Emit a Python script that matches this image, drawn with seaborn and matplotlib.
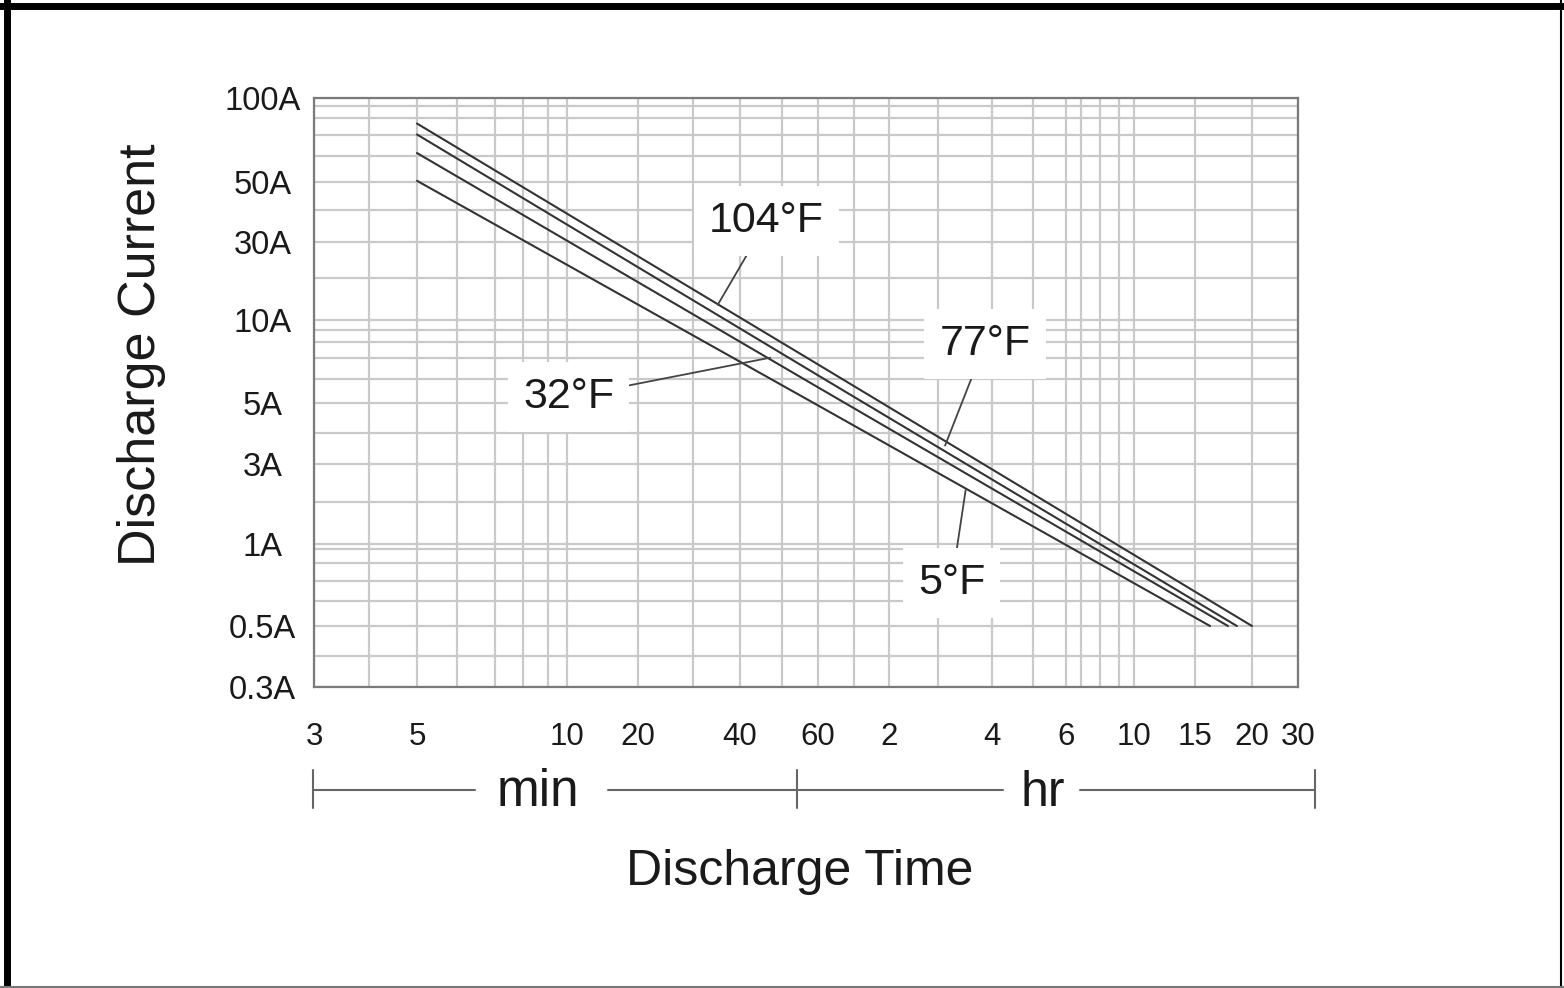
import numpy as np
import pandas as pd
import matplotlib
matplotlib.use("Agg")
import matplotlib.pyplot as plt
import seaborn as sns
from matplotlib.ticker import FixedLocator, FixedFormatter, NullFormatter
from matplotlib.lines import Line2D

# ---------------- data ----------------
temps = ["104°F", "77°F", "32°F", "5°F"]
time_104 = [5, 60, 1200]      # minutes
amp_104 = [81.0, 6.9, 0.5]
time_77 = [5, 60, 1112]
amp_77 = [74.0, 6.3, 0.5]
time_32 = [5, 60, 1063]
amp_32 = [63.5, 5.7, 0.5]
time_5 = [5, 60, 971]
amp_5 = [50.5, 4.9, 0.5]

x_tick_minutes = [3, 5, 10, 20, 40, 60, 120, 240, 360, 600, 900, 1200, 1800]
x_tick_labels = ["3", "5", "10", "20", "40", "60", "2", "4", "6", "10", "15", "20", "30"]
y_tick_amps = [0.3, 0.5, 1, 3, 5, 10, 30, 50, 100]
y_tick_labels = ["0.3A", "0.5A", "1A", "3A", "5A", "10A", "30A", "50A", "100A"]

# label target points on the curves (minutes, amps)
label_targets = {"104°F": (34.4, 12.4), "77°F": (175, 3.5), "32°F": (46.8, 7.3), "5°F": (201, 2.1)}

# ---------------- the hand-drawn (irregular) axis scales ----------------
x_tick_pos = [0, 103, 253, 324, 426, 504, 575, 678, 752, 820, 881, 938, 984]
y_tick_pos = [0, 61, 143, 223, 284, 367, 445, 505, 589]
x_grid_pos = [55, 103, 143, 181, 209, 234, 253, 324, 379, 426, 468, 504, 540, 575, 624,
              678, 719, 752, 767, 786, 805, 820, 881, 938]
y_grid_pos = [581, 569, 552, 531, 505, 477, 445, 409, 367, 357, 345, 329, 308, 284, 254,
              223, 185, 143, 138, 124, 106, 86, 61, 31]


def make_scale(values, pos):
    lv = np.log10(np.asarray(values, float))
    p = np.asarray(pos, float)
    s0 = (p[1] - p[0]) / (lv[1] - lv[0])
    s1 = (p[-1] - p[-2]) / (lv[-1] - lv[-2])

    def fwd(x):
        x = np.log10(np.clip(np.asarray(x, float), 1e-12, None))
        y = np.interp(x, lv, p)
        y = np.where(x < lv[0], p[0] + (x - lv[0]) * s0, y)
        y = np.where(x > lv[-1], p[-1] + (x - lv[-1]) * s1, y)
        return y

    def inv(y):
        y = np.asarray(y, float)
        x = np.interp(y, p, lv)
        x = np.where(y < p[0], lv[0] + (y - p[0]) / s0, x)
        x = np.where(y > p[-1], lv[-1] + (y - p[-1]) / s1, x)
        return 10 ** x

    return fwd, inv


fx, ix = make_scale(x_tick_minutes, x_tick_pos)
fy, iy = make_scale(y_tick_amps, y_tick_pos)

# ---------------- figure ----------------
sns.set_style("white")
plt.rcParams["font.family"] = ["Liberation Sans", "DejaVu Sans"]

fig = plt.figure(figsize=(15.64, 9.88), dpi=100)
ax = fig.add_axes([314 / 1564, 1 - 687 / 988, 984 / 1564, 589 / 988])
ax.set_xscale("function", functions=(fx, ix))
ax.set_yscale("function", functions=(fy, iy))

df = pd.concat([
    pd.DataFrame({"minutes": time_104, "amps": amp_104, "temp": temps[0]}),
    pd.DataFrame({"minutes": time_77, "amps": amp_77, "temp": temps[1]}),
    pd.DataFrame({"minutes": time_32, "amps": amp_32, "temp": temps[2]}),
    pd.DataFrame({"minutes": time_5, "amps": amp_5, "temp": temps[3]}),
], ignore_index=True)

sns.lineplot(data=df, x="minutes", y="amps", hue="temp",
             palette={t: "#333333" for t in temps}, estimator=None, sort=False,
             legend=False, lw=1.5, ax=ax, zorder=2)

ax.set_xlim(x_tick_minutes[0], x_tick_minutes[-1])
ax.set_ylim(y_tick_amps[0], y_tick_amps[-1])

ax.xaxis.set_major_locator(FixedLocator(x_tick_minutes))
ax.xaxis.set_major_formatter(FixedFormatter(x_tick_labels))
ax.xaxis.set_minor_locator(FixedLocator(list(ix(x_grid_pos))))
ax.xaxis.set_minor_formatter(NullFormatter())
ax.yaxis.set_major_locator(FixedLocator(y_tick_amps))
ax.yaxis.set_major_formatter(FixedFormatter(y_tick_labels))
ax.yaxis.set_minor_locator(FixedLocator(list(iy(y_grid_pos))))
ax.yaxis.set_minor_formatter(NullFormatter())

ax.set_axisbelow(True)
ax.grid(which="both", color="#c9c9c9", lw=1.6)
ax.tick_params(which="both", length=0)
ax.tick_params(axis="x", pad=25, labelsize=22.5, labelcolor="#1a1a1a")
ax.tick_params(axis="y", pad=37, labelsize=23.5, labelcolor="#1a1a1a")
for lab in ax.get_yticklabels():
    lab.set_ha("center")

for sp in ax.spines.values():
    sp.set_visible(True)
    sp.set_color("#7a7a7a")
    sp.set_linewidth(1.6)

ax.set_xlabel("Discharge Time", fontsize=36, color="#1a1a1a", va="center")
ax.xaxis.set_label_coords(0.494, -0.314)
ax.set_ylabel("Discharge Current", fontsize=37.5, color="#1a1a1a", va="center")
ax.yaxis.set_label_coords(-0.175, 0.564)

# temperature labels with leader lines
label_pos = {"104°F": (0.460, 0.791), "77°F": (0.682, 0.583),
             "32°F": (0.259, 0.492), "5°F": (0.648, 0.176)}
for t in temps:
    ax.annotate(t, xy=label_targets[t], xycoords="data", xytext=label_pos[t],
                textcoords="axes fraction", ha="center", va="center",
                fontsize=31, color="#1a1a1a", zorder=4,
                bbox=dict(boxstyle="square,pad=0.35", fc="white", ec="none"),
                arrowprops=dict(arrowstyle="-", color="#444444", lw=1.3,
                                shrinkA=0, shrinkB=0))

# min / hr bracket under the x axis
yb = -0.175
seg_kw = dict(transform=ax.transAxes, clip_on=False, color="#666666", lw=1.5)
for x0, x1 in [(-0.001, 0.1636), (0.2988, 0.4909), (0.4909, 0.7002), (0.7785, 1.0173)]:
    ax.plot([x0, x1], [yb, yb], **seg_kw)
for xt in [-0.001, 0.4909, 1.0173]:
    ax.plot([xt, xt], [-0.141, -0.2054], **seg_kw)
ax.text(0.2276, -0.202, "min", transform=ax.transAxes, ha="center", va="baseline",
        fontsize=37, color="#1a1a1a")
ax.text(0.741, -0.202, "hr", transform=ax.transAxes, ha="center", va="baseline",
        fontsize=36, color="#1a1a1a")

# outer frame of the picture
fig.add_artist(Line2D([0, 1], [1 - 6.5 / 988] * 2, transform=fig.transFigure, color="black", lw=5))
fig.add_artist(Line2D([6.5 / 1564] * 2, [0, 1], transform=fig.transFigure, color="black", lw=5))
fig.add_artist(Line2D([1561 / 1564] * 2, [0, 1], transform=fig.transFigure, color="black", lw=1.5))
fig.add_artist(Line2D([0, 1], [1 / 988] * 2, transform=fig.transFigure, color="#777777", lw=1.5))

fig.savefig("out.png", dpi=100)
